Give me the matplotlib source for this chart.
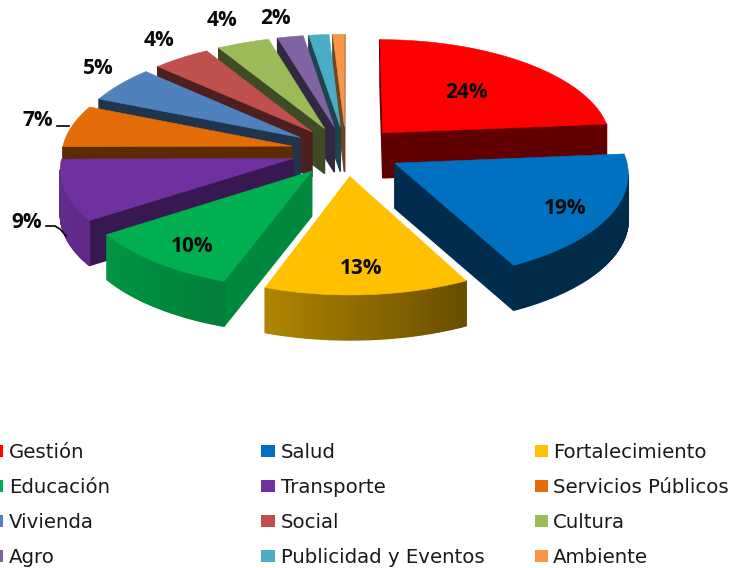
import matplotlib
matplotlib.use("Agg")
import matplotlib.pyplot as plt
from matplotlib.patches import Polygon, Rectangle
import numpy as np

categories = ["Gestión", "Salud", "Fortalecimiento", "Educación", "Transporte", "Servicios Públicos",
              "Vivienda", "Social", "Cultura", "Agro", "Publicidad y Eventos", "Ambiente"]
# slice sizes, the printed percents are rounded differently
values = [23.6, 18.85, 12.95, 10.1, 9.4, 6.5, 5.6, 4.5, 4.05, 2.0, 1.55, .9]
percent_labels = ["24%", "19%", "13%", "10%", "9%", "7%", "5%", "4%", "4%", "2%", None, None]
colors = ["#FF0000", "#0070C0", "#FFC000", "#00B050", "#7030A0", "#E36C09",
          "#4F81BD", "#C0504D", "#9BBB59", "#8064A2", "#4BACC6", "#F79646"]

# wall brightness at the start / end of each slice, and for its flat sides
wall_shade = [(.38, .38), (.38, .38), (.40, .69), (.72, .85), (.85, .90), (.40, .40),
              (.40, .40), (.40, .40), (.40, .40), (.40, .40), (.40, .40), (.45, .45)]
side_shade = [.38, .40, .40, .78, .50, .40, .40, .40, .40, .40, .40, .45]

# where the percent labels go, in pixels
label_pos = [(466, 93), (565, 209), (361, 269), (192, 246), (27, 222), (38, 121),
             (98, 68), (159, 41), (222, 21), (275, 18), None, None]

CX, CY = 346, 151
RX, RY = 230, 104
PERSP = .0843
EXPLODE = .24
DEPTH = 45


def project(x, y, z=0.0):
    w = 1 + PERSP * np.asarray(y)
    return CX + RX * np.asarray(x) / w, CY - RY * np.asarray(y) / w + z


def drops(p, q, m):
    # a wall hanging under edge p-q shows only if the slice top lies above that edge
    if abs(q[0] - p[0]) < 1e-6:
        return False
    edge_y = p[1] + (q[1] - p[1]) * (m[0] - p[0]) / (q[0] - p[0])
    return m[1] < edge_y


def shaded(color, f):
    return tuple(c * f for c in matplotlib.colors.to_rgb(color))


def wall(ax, x0, y0, x1, y1, color, zo):
    a = project(x0, y0)
    b = project(x1, y1)
    c = project(x1, y1, DEPTH)
    d = project(x0, y0, DEPTH)
    ax.add_patch(Polygon([a, b, c, d], closed=True, fc=color, ec=color, lw=1, zorder=zo))


fig = plt.figure(figsize=(7.32, 5.68), dpi=100)
ax = fig.add_axes([0, 0, 1, 1])
ax.set_xlim(0, 732)
ax.set_ylim(568, 0)
ax.axis("off")

edges = np.cumsum([0] + values) / sum(values) * 2 * np.pi
slices = []
for i in range(len(values)):
    t = np.linspace(edges[i], edges[i + 1], max(4, int(values[i] * 6)))
    mid = (edges[i] + edges[i + 1]) / 2
    slices.append((i, t, EXPLODE * np.sin(mid), EXPLODE * np.cos(mid)))

# painter's order, the back slices first
order = [11, 10, 9, 8, 7, 6, 5, 4, 3, 0, 1, 2]
zo = 1
for i, t, ox, oy in [slices[j] for j in order]:
    ax_x = ox + np.sin(t)
    ax_y = oy + np.cos(t)
    inner_x = ox + .55 * np.sin(t[len(t) // 2])
    inner_y = oy + .55 * np.cos(t[len(t) // 2])
    m = project(inner_x, inner_y)
    apex = project(ox, oy)

    for k in (0, -1):
        p = project(ax_x[k], ax_y[k])
        if drops(apex, p, m):
            wall(ax, ox, oy, ax_x[k], ax_y[k], shaded(colors[i], side_shade[i]), zo)
            zo += 1

    for k in range(len(t) - 1):
        p = project(ax_x[k], ax_y[k])
        q = project(ax_x[k + 1], ax_y[k + 1])
        if drops(p, q, m):
            f = wall_shade[i][0] + (wall_shade[i][1] - wall_shade[i][0]) * k / (len(t) - 2)
            wall(ax, ax_x[k], ax_y[k], ax_x[k + 1], ax_y[k + 1], shaded(colors[i], f), zo)
    zo += 1

    px, py = project(np.r_[ox, ax_x], np.r_[oy, ax_y])
    ax.add_patch(Polygon(np.c_[px, py], closed=True, fc=colors[i], ec=colors[i], lw=.4, zorder=zo))
    zo += 1

for s, pos in zip(percent_labels, label_pos):
    if s is not None:
        ax.text(pos[0], pos[1], s, ha="center", va="center", fontsize=15,
                fontweight="bold", family="Open Sans", color="#0a0a0a", zorder=200)

# leader lines
ax.plot([57, 69], [126, 126], color="black", lw=1.2, zorder=150)
ax.plot([46, 55, 60, 66], [226, 226, 229, 236], color="black", lw=1.2, zorder=150)

# legend, laid out by hand because the first column is cut off by the image edge
swatch_x = [-11, 261, 534.5]
text_x = [9, 281, 553]
for i, name in enumerate(categories):
    row, col = i // 3, i % 3
    y = 451 + 35 * row
    ax.add_patch(Rectangle((swatch_x[col], y - 6), 13.5, 12, fc=colors[i], ec="none", zorder=5))
    ax.text(text_x[col], y + 7, name, ha="left", va="baseline", fontsize=14.25,
            family="DejaVu Sans", color="#1a1a1a")

fig.savefig("out.png", dpi=100)
